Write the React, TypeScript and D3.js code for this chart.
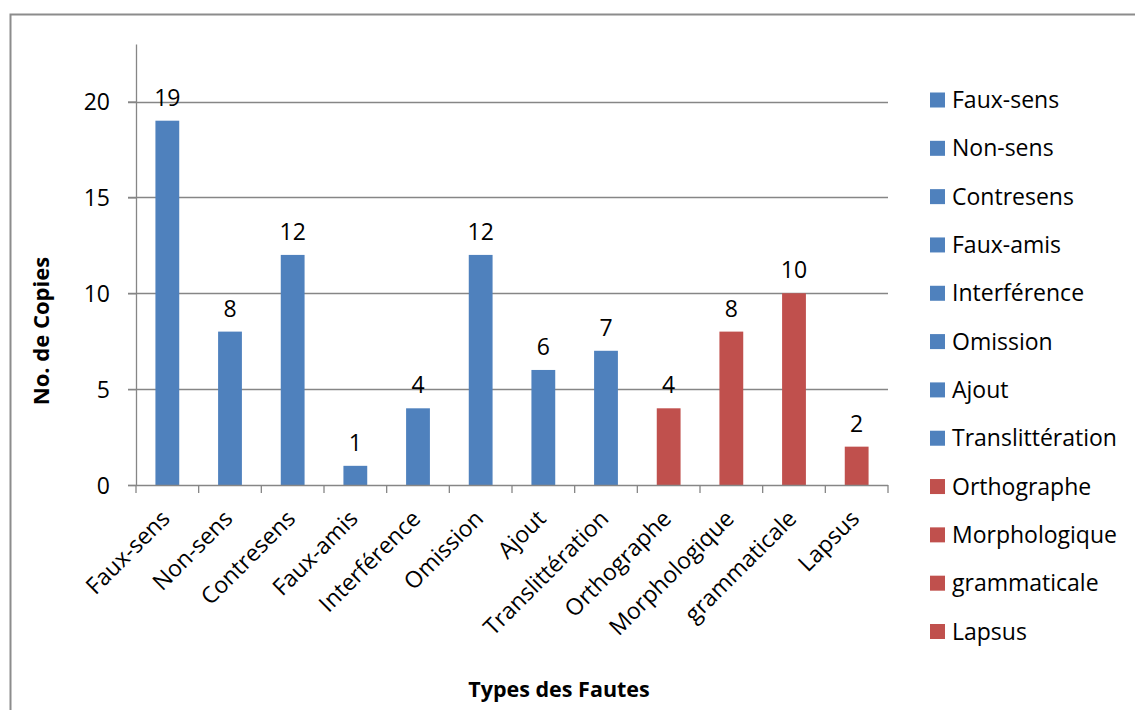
import * as d3 from 'd3';
import { useEffect, useRef } from 'react';

const categories = [
  'Faux-sens',
  'Non-sens',
  'Contresens',
  'Faux-amis',
  'Interférence',
  'Omission',
  'Ajout',
  'Translittération',
  'Orthographe',
  'Morphologique',
  'grammaticale',
  'Lapsus',
];
const counts = [19, 8, 12, 1, 4, 12, 6, 7, 4, 8, 10, 2];
// first 8 are lexical faults (blue), the rest grammar faults (red)
const groups = ['lex', 'lex', 'lex', 'lex', 'lex', 'lex', 'lex', 'lex', 'gram', 'gram', 'gram', 'gram'];
const yTicks = [0, 5, 10, 15, 20];

const FONT = '"Open Sans", sans-serif';
const FS = 23;

const App = () => {
  const svgRef = useRef<SVGSVGElement>(null);

  useEffect(() => {
    const W = 1135;
    const H = 710;
    const svg = d3.select(svgRef.current);
    svg.selectAll('*').remove();
    svg.attr('width', W).attr('height', H);

    const color = d3.scaleOrdinal<string, string>().domain(['lex', 'gram']).range(['#4F81BD', '#C0504D']);

    const x = d3.scaleBand().domain(categories).range([136, 888]).paddingInner(0.62).paddingOuter(0.31);
    const y = d3.scaleLinear().domain([0, 23]).range([485, 44]);

    // outer border
    svg
      .append('rect')
      .attr('x', 10.5)
      .attr('y', 14.5)
      .attr('width', W + 20)
      .attr('height', H + 20)
      .attr('fill', 'none')
      .attr('stroke', '#8c8c8c')
      .attr('stroke-width', 2);

    // gridlines
    svg
      .selectAll('.grid')
      .data(yTicks.filter((d) => d > 0))
      .join('line')
      .attr('class', 'grid')
      .attr('x1', 128)
      .attr('x2', 888)
      .attr('y1', (d) => Math.round(y(d)) + 0.5)
      .attr('y2', (d) => Math.round(y(d)) + 0.5)
      .attr('stroke', '#868686')
      .attr('stroke-width', 1.3);

    // y axis
    const yAxis = svg
      .append('g')
      .attr('transform', 'translate(136,0)')
      .call(d3.axisLeft(y).tickValues(yTicks).tickSize(8).tickPadding(18).tickSizeOuter(0));
    yAxis.select('.domain').attr('stroke', '#868686').attr('stroke-width', 1.3);
    yAxis.selectAll('.tick line').attr('stroke', '#868686').attr('stroke-width', 1.3);
    yAxis
      .selectAll('.tick text')
      .attr('font-family', FONT)
      .attr('font-size', FS)
      .attr('fill', '#000')
      .attr('dy', '0.35em');

    // bars
    svg
      .selectAll('.bar')
      .data(categories)
      .join('rect')
      .attr('class', 'bar')
      .attr('x', (d) => x(d)!)
      .attr('y', (d, i) => y(counts[i]))
      .attr('width', x.bandwidth())
      .attr('height', (d, i) => y(0) - y(counts[i]))
      .attr('fill', (d, i) => color(groups[i]));

    // x axis line + ticks
    const step = x.step();
    const xEdges = d3.range(categories.length + 1).map((i) => 136 + i * step);
    svg
      .append('line')
      .attr('x1', 128)
      .attr('x2', 888)
      .attr('y1', 485.5)
      .attr('y2', 485.5)
      .attr('stroke', '#868686')
      .attr('stroke-width', 1.3);
    svg
      .selectAll('.xtick')
      .data(xEdges)
      .join('line')
      .attr('class', 'xtick')
      .attr('x1', (d) => d)
      .attr('x2', (d) => d)
      .attr('y1', 485)
      .attr('y2', 493)
      .attr('stroke', '#868686')
      .attr('stroke-width', 1.3);

    // category labels rotated
    svg
      .selectAll('.xlabel')
      .data(categories)
      .join('text')
      .attr('class', 'xlabel')
      .attr('transform', (d) => `translate(${x(d)! + x.bandwidth() / 2 + 4},520) rotate(-45)`)
      .attr('text-anchor', 'end')
      .attr('font-family', FONT)
      .attr('font-size', FS)
      .text((d) => d);

    // value labels
    svg
      .selectAll('.vlabel')
      .data(categories)
      .join('text')
      .attr('class', 'vlabel')
      .attr('x', (d) => x(d)! + x.bandwidth() / 2)
      .attr('y', (d, i) => y(counts[i]) - 15)
      .attr('text-anchor', 'middle')
      .attr('font-family', FONT)
      .attr('font-size', FS)
      .text((d, i) => counts[i]);

    // axis titles
    svg
      .append('text')
      .attr('transform', 'translate(49,331) rotate(-90)')
      .attr('text-anchor', 'middle')
      .attr('font-family', FONT)
      .attr('font-weight', 'bold')
      .attr('font-size', 22)
      .text('No. de Copies');
    svg
      .append('text')
      .attr('x', 559)
      .attr('y', 697)
      .attr('text-anchor', 'middle')
      .attr('font-family', FONT)
      .attr('font-weight', 'bold')
      .attr('font-size', 21.5)
      .text('Types des Fautes');

    // legend
    const leg = d3.scaleLinear().domain([0, categories.length - 1]).range([100, 631.5]);
    const items = svg
      .selectAll('.leg')
      .data(categories)
      .join('g')
      .attr('class', 'leg')
      .attr('transform', (d, i) => `translate(930,${leg(i)})`);
    items
      .append('rect')
      .attr('x', 0)
      .attr('y', -7.5)
      .attr('width', 15)
      .attr('height', 15)
      .attr('fill', (d, i) => color(groups[i]));
    items
      .append('text')
      .attr('x', 22)
      .attr('dy', '0.35em')
      .attr('font-family', FONT)
      .attr('font-size', FS)
      .text((d) => d);
  }, []);

  return (
    <div style={{ position: 'absolute', left: 0, top: 0 }}>
      <svg ref={svgRef} style={{ display: 'block', background: '#fff' }}></svg>
    </div>
  );
};

export default App;
